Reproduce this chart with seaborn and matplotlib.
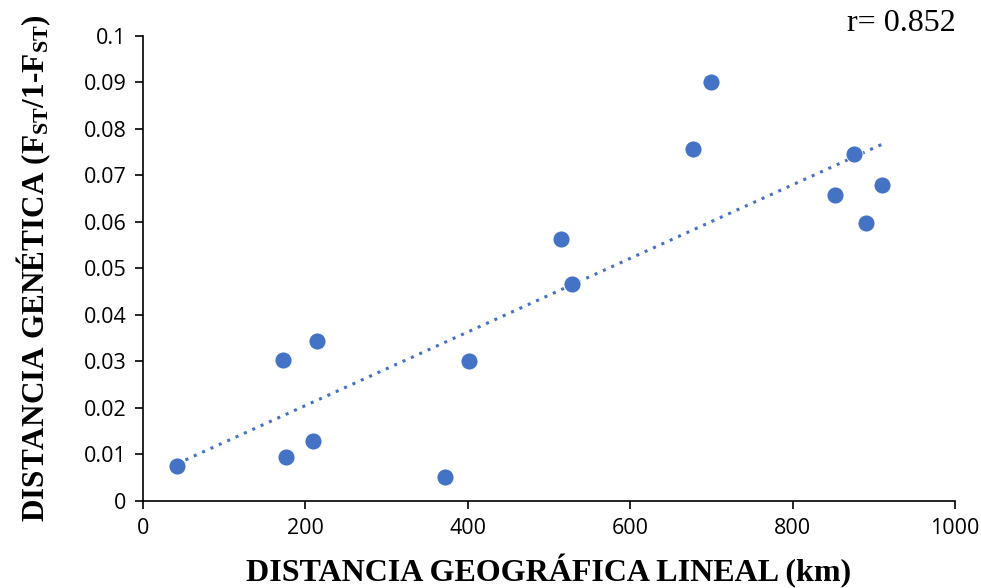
import numpy as np
import pandas as pd
import seaborn as sns
import matplotlib.pyplot as plt

# distancia geografica (km) vs distancia genetica Fst/(1-Fst)
distancia_km = [42, 172, 176, 209, 214, 372, 402, 515, 528, 677, 700, 852, 876, 891, 910]
distancia_gen = [0.0075, 0.0303, 0.0095, 0.0128, 0.0345, 0.0052, 0.0300, 0.0563,
                 0.0467, 0.0757, 0.0901, 0.0658, 0.0745, 0.0598, 0.0679]
x_ticks = [0, 200, 400, 600, 800, 1000]
y_ticks = [0, 0.01, 0.02, 0.03, 0.04, 0.05, 0.06, 0.07, 0.08, 0.09, 0.1]
y_tick_labels = ['0', '0.01', '0.02', '0.03', '0.04', '0.05', '0.06', '0.07', '0.08', '0.09', '0.1']
r_label = 'r= 0.852'

df = pd.DataFrame({'km': distancia_km, 'gen': distancia_gen})

sns.set_style('ticks')
plt.rcParams['font.family'] = ['Open Sans', 'DejaVu Sans']
plt.rcParams['text.color'] = 'black'
plt.rcParams['axes.labelcolor'] = 'black'
plt.rcParams['mathtext.fontset'] = 'custom'
plt.rcParams['mathtext.rm'] = 'Liberation Serif:bold'
plt.rcParams['mathtext.bf'] = 'Liberation Serif:bold'
plt.rcParams['mathtext.it'] = 'Liberation Serif:bold'

color = '#4472C4'
fig = plt.figure(figsize=(9.81, 5.88), dpi=100)
ax = fig.add_axes([0.1458, 0.148, 0.8277, 0.791])

sns.scatterplot(data=df, x='km', y='gen', ax=ax, s=150, color=color,
                edgecolor='white', linewidth=0.6, zorder=3)

# linea de tendencia (minimos cuadrados)
m, b = np.polyfit(df['km'], df['gen'], 1)
xs = np.array([df['km'].min(), df['km'].max()])
ax.plot(xs, m * xs + b, linestyle=(0, (1, 2)), color=color, linewidth=2.2, zorder=2)

ax.set_xlim(0, 1000)
ax.set_ylim(0, 0.1)
ax.set_xticks(x_ticks)
ax.set_yticks(y_ticks)
ax.set_yticklabels(y_tick_labels)
ax.tick_params(axis='both', direction='out', length=6, width=1.2, labelsize=15.5,
               colors='black', pad=6)
for side in ['left', 'bottom']:
    ax.spines[side].set_linewidth(1.2)
    ax.spines[side].set_color('black')
sns.despine(ax=ax)

ax.set_xlabel('DISTANCIA GEOGRÁFICA LINEAL (km)', family='Liberation Serif',
              fontweight='bold', fontsize=23, labelpad=11)
ax.set_ylabel(r'DISTANCIA GENÉTICA (F$_{\mathbf{ST}}$/1-F$_{\mathbf{ST}}$)',
              family='Liberation Serif', fontweight='bold', fontsize=22.5, labelpad=22)

fig.text(0.974, 0.96, r_label, family='Liberation Serif', fontsize=23,
         ha='right', va='center')

fig.savefig('out.png', dpi=100)
